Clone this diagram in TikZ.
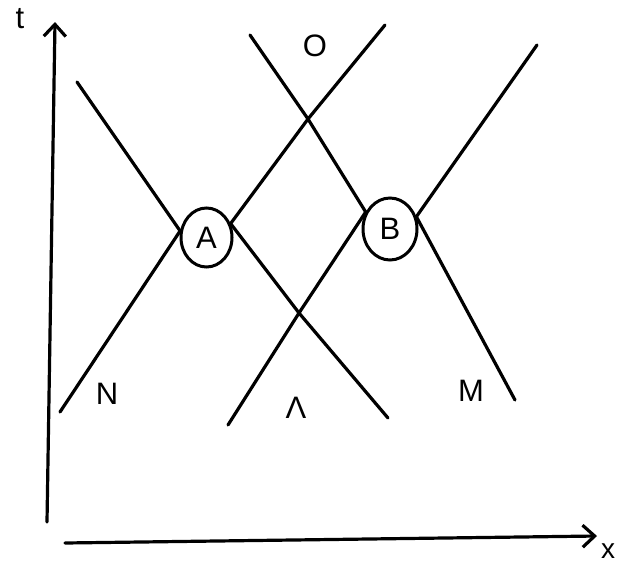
\documentclass[tikz,border=0pt]{standalone}
\usepackage{fontspec}
\setmainfont{Liberation Sans}
\usetikzlibrary{shapes.geometric,arrows.meta}
\tikzset{
 ln/.style={line width=3.2pt,line cap=round,line join=round},
 ev/.style={ellipse,draw,fill=white,line width=3pt,inner sep=0pt,font=\fontsize{31}{31}\selectfont},
 lbl/.style={inner sep=0pt,font=\fontsize{31}{31}\selectfont},
 ax/.style={line width=3.2pt,line cap=round,-{Straight Barb[length=12pt,width=22pt,line width=3.2pt]}}
}
\begin{document}
\begin{tikzpicture}[x=1pt,y=-1pt]
\useasboundingbox (0,0) rectangle (621,565);
% axes
\coordinate (t0) at (47,522);
\coordinate (t1) at (55,22);
\coordinate (x0) at (65,543);
\coordinate (x1) at (597,536);
\draw[ax] (t0) -- (t1);
\draw[ax] (x0) -- (x1);
\node[lbl] (tl) at (20,19) {t};
\node[lbl,font=\fontsize{28}{28}\selectfont] (xl) at (608,551) {x};
% events
\node[ev,minimum width=51pt,minimum height=59pt] (A) at (206.5,237.5) {A};
\node[ev,minimum width=54pt,minimum height=62pt] (B) at (390,229) {B};
% world-line ends and crossings
\coordinate (p1s) at (60,412);
\coordinate (p1e) at (385,25);
\coordinate (p2s) at (77,82);
\coordinate (p2e) at (388,418);
\coordinate (p3s) at (250,35);
\coordinate (p3e) at (515,400);
\coordinate (p4s) at (228,425);
\coordinate (p4e) at (537,45);
\coordinate (X1) at (308,119);
\coordinate (X2) at (299,313);
% lines
\draw[ln] (p1s) -- (A.166);
\draw[ln] (A.30) -- (X1) -- (p1e);
\draw[ln] (p2s) -- (A.166);
\draw[ln] (A.30) -- (X2) -- (p2e);
\draw[ln] (p3s) -- (X1) -- (B.145);
\draw[ln] (B.25) -- (p3e);
\draw[ln] (p4s) -- (X2) -- (B.145);
\draw[ln] (B.25) -- (p4e);
% labels
\node[lbl] (O) at (315,46) {O};
\node[lbl] (N) at (107,394) {N};
\node[lbl] (L) at (296,408) {Λ};
\node[lbl] (M) at (471,391) {M};
\end{tikzpicture}
\end{document}
